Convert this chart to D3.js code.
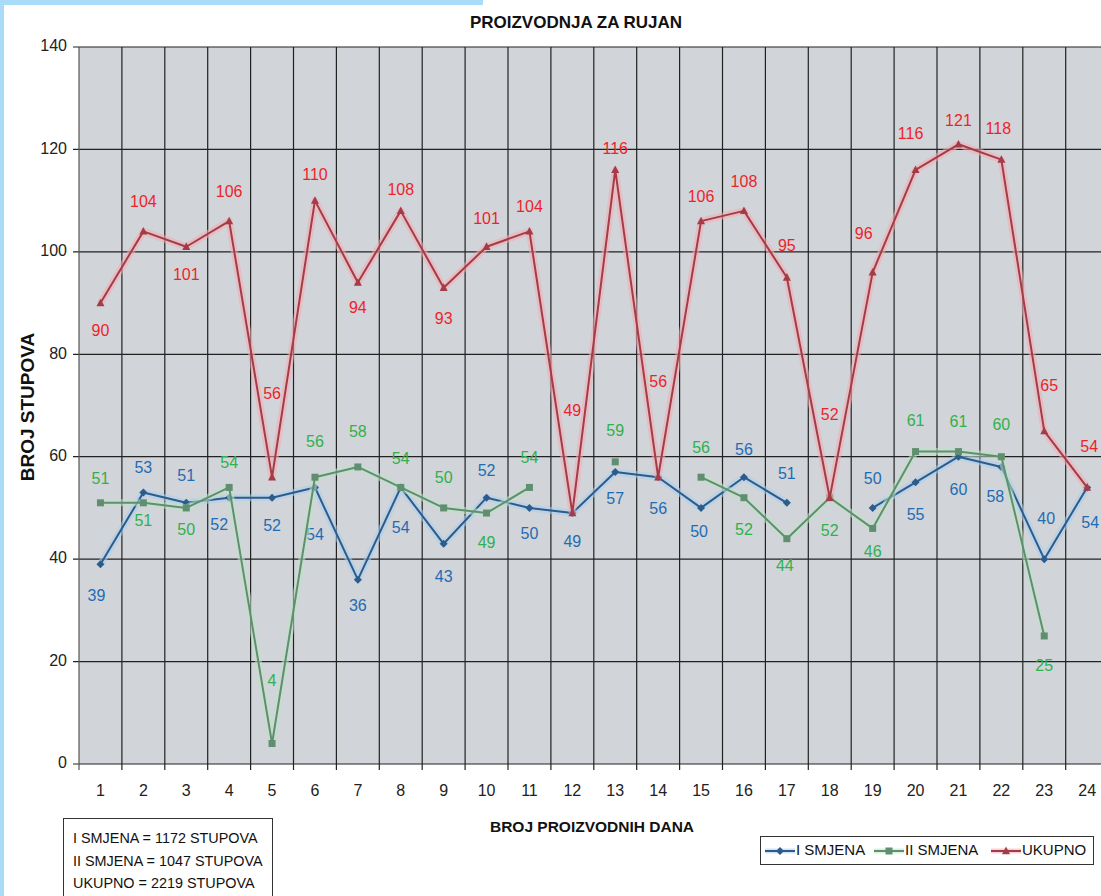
<!DOCTYPE html>
<html>
<head>
<meta charset="utf-8">
<script src="https://cdn.jsdelivr.net/npm/d3@7"></script>
<style>
  body { margin: 0; background: #fff; }
  svg { display: block; font-family: "Liberation Sans", Arial, sans-serif; }
</style>
</head>
<body>
<div id="chart"></div>
<script>
const width = 1101, height = 896;

// data
const days = d3.range(1, 25);
const smjena1 = [39, 53, 51, 52, 52, 54, 36, 54, 43, 52, 50, 49, 57, 56, 50, 56, 51, null, 50, 55, 60, 58, 40, 54];
const smjena2 = [51, 51, 50, 54, 4, 56, 58, 54, 50, 49, 54, null, 59, null, 56, 52, 44, 52, 46, 61, 61, 60, 25, null];
const ukupno = [90, 104, 101, 106, 56, 110, 94, 108, 93, 101, 104, 49, 116, 56, 106, 108, 95, 52, 96, 116, 121, 118, 65, 54];
const yTicks = [0, 20, 40, 60, 80, 100, 120, 140];
const totals = ["I SMJENA = 1172 STUPOVA", "II SMJENA = 1047 STUPOVA", "UKUPNO = 2219 STUPOVA"];

// label offsets (px from point, label centre)
const dy1 = [33, -24, -26, 28, 29, 48, 27, 41, 34, -26, 27, 30, 28, 33, 25, -26, -28, 0, -28, 33, 34, 31, -39, 36];
const dx1 = [-4, 0, 0, -10, 0, 0, 0, 0, 0, 0, 0, 0, 0, 0, -2, 0, 0, 0, 0, 0, 0, -6, 2, 3];
const dy2 = [-23, 19, 23, -24, -62, -34, -34, -28, -29, 31, -29, 0, -30, 0, -28, 33, 28, 34, 24, -30, -29, -31, 31, 0];
const dx2 = [0, 0, 0, 0, 0, 0, 0, 0, 0, 0, 0, 0, 0, 0, 0, 0, -2, 0, 0, 0, 0, 0, 0, 0];
const dyU = [29, -29, 29, -28, -82, -25, 26, -20, 32, -27, -24, -101, -20, -94, -23, -28, -31, -82, -38, -35, -23, -30, -44, -40];
const dxU = [0, 0, 0, 0, 0, 0, 0, 0, 0, 0, 0, 0, 0, 0, 0, 0, 0, 0, -9, -5, 0, -3, 5, 2];

const series = [
  { name: "I SMJENA", values: smjena1, dy: dy1, dx: dx1, line: "#2c5b8c", glow: "#a9cdef", text: "#1f6cb4", marker: "diamond" },
  { name: "II SMJENA", values: smjena2, dy: dy2, dx: dx2, line: "#5f8f70", glow: "#bfe2c6", text: "#2fb14c", marker: "square" },
  { name: "UKUPNO", values: ukupno, dy: dyU, dx: dxU, line: "#a33c48", glow: "#f5a9b0", text: "#ef1f2b", marker: "triangle" }
];

const svg = d3.select("#chart").append("svg")
  .attr("width", width).attr("height", height);

// light blue frame pieces
svg.append("rect").attr("x", 0).attr("y", 0).attr("width", 4).attr("height", height).attr("fill", "#a8dcf8");
svg.append("rect").attr("x", 0).attr("y", 0).attr("width", 483).attr("height", 5).attr("fill", "#a8dcf8");

const x = d3.scaleBand().domain(days).range([79, 79 + 24 * 42.9]).padding(0);
const y = d3.scaleLinear().domain([0, 140]).range([764, 47]);

// plot area
svg.append("rect")
  .attr("x", 79).attr("y", y(140))
  .attr("width", 1108 - 79).attr("height", y(0) - y(140))
  .attr("fill", "#d1d4d8");

// horizontal gridlines + ticks
svg.append("g").selectAll("line")
  .data(yTicks)
  .join("line")
  .attr("x1", 73).attr("x2", 1110)
  .attr("y1", d => y(d)).attr("y2", d => y(d))
  .attr("stroke", "#222").attr("stroke-width", 1.2);

svg.append("g").selectAll("text")
  .data(yTicks)
  .join("text")
  .attr("x", 67).attr("y", d => y(d))
  .attr("text-anchor", "end").attr("dominant-baseline", "middle")
  .attr("font-size", 16).attr("fill", "#222")
  .text(d => d);

// vertical gridlines at category boundaries
const bounds = days.map(d => x(d)).concat([x(24) + x.bandwidth()]);
svg.append("g").selectAll("line")
  .data(bounds)
  .join("line")
  .attr("x1", d => d).attr("x2", d => d)
  .attr("y1", y(140)).attr("y2", y(0) + 6)
  .attr("stroke", (d, i) => i == 0 ? "#555" : "#222")
  .attr("stroke-width", 1.2);

svg.append("g").selectAll("text")
  .data(days)
  .join("text")
  .attr("x", d => x(d) + x.bandwidth() / 2).attr("y", 792)
  .attr("text-anchor", "middle").attr("dominant-baseline", "middle")
  .attr("font-size", 16).attr("fill", "#222")
  .text(d => d);

// titles
svg.append("text").attr("x", 576).attr("y", 28)
  .attr("text-anchor", "middle").attr("font-weight", "bold").attr("font-size", 17)
  .attr("fill", "#111").text("PROIZVODNJA ZA RUJAN");
svg.append("text").attr("x", 592).attr("y", 832)
  .attr("text-anchor", "middle").attr("font-weight", "bold").attr("font-size", 15.5)
  .attr("fill", "#111").text("BROJ PROIZVODNIH DANA");
svg.append("text")
  .attr("transform", "translate(34,407) rotate(-90)")
  .attr("text-anchor", "middle").attr("font-weight", "bold").attr("font-size", 19)
  .attr("fill", "#111").text("BROJ STUPOVA");

const cx = i => x(days[i]) + x.bandwidth() / 2;

function markerPath(type, s) {
  if (type == "diamond") return `M0,${-s}L${s},0L0,${s}L${-s},0Z`;
  if (type == "square") return `M${-s},${-s}H${s}V${s}H${-s}Z`;
  return `M0,${-s * 1.1}L${s},${s * 0.8}L${-s},${s * 0.8}Z`;
}

const line = d3.line()
  .defined(d => d != null)
  .x((d, i) => cx(i))
  .y(d => y(d));

for (const s of series) {
  const g = svg.append("g");
  g.append("path")
    .attr("d", line(s.values))
    .attr("fill", "none").attr("stroke", s.glow)
    .attr("stroke-width", 7).attr("stroke-opacity", 0.55)
    .attr("stroke-linejoin", "round");
  g.append("path")
    .attr("d", line(s.values))
    .attr("fill", "none").attr("stroke", s.line)
    .attr("stroke-width", 2).attr("stroke-linejoin", "round");

  const pts = s.values.map((v, i) => ({ v, i })).filter(d => d.v != null);
  g.selectAll("path.m")
    .data(pts)
    .join("path")
    .attr("class", "m")
    .attr("d", markerPath(s.marker, s.marker == "square" ? 3.5 : 4))
    .attr("transform", d => `translate(${cx(d.i)},${y(d.v)})`)
    .attr("fill", s.line);

  g.selectAll("text")
    .data(pts)
    .join("text")
    .attr("x", d => cx(d.i) + s.dx[d.i])
    .attr("y", d => y(d.v) + s.dy[d.i])
    .attr("text-anchor", "middle").attr("dominant-baseline", "middle")
    .attr("font-size", 16).attr("fill", s.text)
    .text(d => d.v);
}

// totals box
const tb = svg.append("g");
tb.append("rect").attr("x", 63.5).attr("y", 818.5).attr("width", 209).attr("height", 90)
  .attr("fill", "#fff").attr("stroke", "#333").attr("stroke-width", 1);
tb.selectAll("text")
  .data(totals)
  .join("text")
  .attr("x", 73).attr("y", (d, i) => 843 + i * 22.5)
  .attr("font-size", 14.4).attr("fill", "#111")
  .text(d => d);

// legend
const lg = svg.append("g");
lg.append("rect").attr("x", 760.5).attr("y", 836.5).attr("width", 333).attr("height", 28)
  .attr("fill", "#fff").attr("stroke", "#333").attr("stroke-width", 1);
const legX = [765, 874, 991];
series.forEach((s, k) => {
  const x0 = legX[k];
  lg.append("line").attr("x1", x0).attr("x2", x0 + 30).attr("y1", 851).attr("y2", 851)
    .attr("stroke", s.glow).attr("stroke-width", 5).attr("stroke-opacity", 0.55);
  lg.append("line").attr("x1", x0).attr("x2", x0 + 30).attr("y1", 851).attr("y2", 851)
    .attr("stroke", s.line).attr("stroke-width", 2);
  lg.append("path").attr("d", markerPath(s.marker, s.marker == "square" ? 3.5 : 4))
    .attr("transform", `translate(${x0 + 15},851)`).attr("fill", s.line);
  lg.append("text").attr("x", x0 + 31).attr("y", 851)
    .attr("dominant-baseline", "middle").attr("font-size", 15).attr("fill", "#111")
    .text(s.name);
});
</script>
</body>
</html>
